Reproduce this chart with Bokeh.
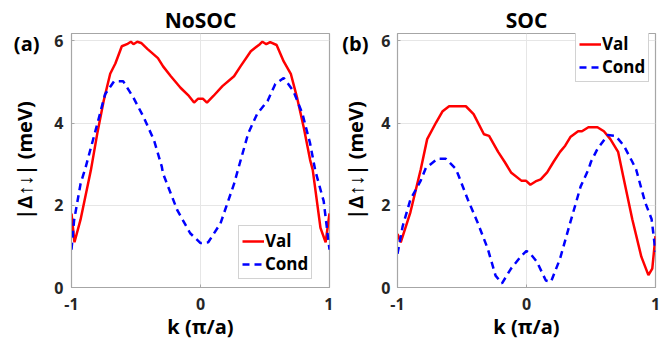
from bokeh.plotting import figure
from bokeh.layouts import row
from bokeh.models import Range1d, FixedTicker, Legend, LegendItem, LinearAxis
from bokeh.embed import file_html
from bokeh.resources import INLINE

# ---- data ----
k_val_a = [-1.0, -0.977, -0.93, -0.85, -0.80, -0.75, -0.70, -0.66, -0.61, -0.57, -0.54, -0.52, -0.49, -0.46,
           -0.41, -0.33, -0.29, -0.23, -0.155, -0.09, -0.05, -0.02, 0.0, 0.02, 0.05, 0.10, 0.17, 0.26, 0.31,
           0.39, 0.46, 0.48, 0.51, 0.54, 0.59, 0.645, 0.70, 0.75, 0.80, 0.85, 0.87, 0.93, 0.97, 1.0]
val_a = [1.8, 1.1, 1.65, 2.85, 3.75, 4.55, 5.2, 5.45, 5.87, 5.92, 5.98, 5.92, 5.98, 5.95,
         5.8, 5.58, 5.38, 5.14, 4.86, 4.66, 4.5, 4.59, 4.59, 4.59, 4.5, 4.66, 4.9, 5.14, 5.38,
         5.75, 5.92, 5.98, 5.92, 5.97, 5.9, 5.5, 5.2, 4.6, 3.9, 3.1, 2.86, 1.45, 1.1, 1.8]
k_cond_a = [-1.0, -0.98, -0.93, -0.89, -0.80, -0.74, -0.67, -0.60, -0.52, -0.44, -0.36, -0.30, -0.29,
            -0.18, -0.08, 0.0, 0.06, 0.155, 0.26, 0.29, 0.37, 0.44, 0.52, 0.58, 0.645, 0.72, 0.79,
            0.85, 0.89, 0.955, 1.0]
cond_a = [0.92, 1.63, 2.52, 2.93, 3.98, 4.7, 5.02, 5.02, 4.62, 4.14, 3.58, 2.94, 2.77,
          1.88, 1.32, 1.08, 1.1, 1.56, 2.52, 2.86, 3.75, 4.23, 4.54, 4.95, 5.1, 4.78, 4.23,
          3.5, 2.84, 2.1, 0.92]

k_val_b = [-1.0, -0.975, -0.9, -0.82, -0.77, -0.70, -0.65, -0.60, -0.47, -0.41, -0.33, -0.29, -0.22,
           -0.17, -0.12, -0.04, -0.005, 0.03, 0.07, 0.11, 0.16, 0.21, 0.26, 0.30, 0.34, 0.40, 0.43,
           0.48, 0.55, 0.60, 0.65, 0.71, 0.75, 0.82, 0.89, 0.945, 0.975, 1.0]
val_b = [1.3, 1.1, 1.83, 2.87, 3.61, 4.02, 4.29, 4.41, 4.41, 4.22, 3.73, 3.69, 3.3,
         3.06, 2.8, 2.6, 2.6, 2.5, 2.58, 2.63, 2.8, 3.06, 3.3, 3.45, 3.66, 3.8, 3.8,
         3.9, 3.9, 3.8, 3.61, 3.3, 2.7, 1.66, 0.75, 0.3, 0.46, 1.25]
k_cond_b = [-1.0, -0.96, -0.9, -0.82, -0.78, -0.69, -0.625, -0.55, -0.53, -0.455, -0.38, -0.30, -0.24,
            -0.19, -0.12, -0.04, 0.0, 0.03, 0.08, 0.15, 0.19, 0.26, 0.34, 0.42, 0.48, 0.5, 0.55,
            0.63, 0.69, 0.755, 0.82, 0.85, 0.92, 0.97, 1.0]
cond_b = [0.82, 1.49, 2.14, 2.6, 2.91, 3.13, 3.13, 2.89, 2.75, 2.14, 1.59, 0.94, 0.29,
          0.1, 0.46, 0.77, 0.89, 0.82, 0.63, 0.17, 0.14, 0.7, 1.59, 2.46, 2.87, 3.06, 3.37,
          3.71, 3.69, 3.45, 3.06, 2.87, 2.07, 1.66, 0.87]

x_ticks = [-1, 0, 1]
x_tick_labels = ["-1", "0", "1"]
y_ticks = [0, 2, 4, 6]
titles = ["NoSOC", "SOC"]
panel_tags = ["(a)", "(b)"]
x_label = "k (π/a)"
y_label = "|Δ↑↓| (meV)"
legend_labels = ["Val", "Cond"]

FONT = "Open Sans"
GRAY = "#a6a6a6"
TAG_Y = 5.94


def make_panel(kv, vv, kc, vc, title, tag, width, bl, br, bt, bb, legend_loc,
               tick_so, tag_so, ylab_so):
    p = figure(width=width, height=342, output_backend="svg", toolbar_location=None,
               x_range=Range1d(-1, 1), y_range=Range1d(0, 6.18),
               min_border_left=bl, min_border_right=br, min_border_top=bt, min_border_bottom=bb,
               title=title)
    p.title.align = "center"
    p.title.text_font = FONT
    p.title.text_font_size = "21px"
    p.title.text_font_style = "bold"
    p.title.text_color = "black"
    p.title.standoff = 0
    p.outline_line_color = GRAY
    p.outline_line_width = 1.2
    p.background_fill_color = "white"
    p.border_fill_color = "white"
    for ax in (p.xaxis, p.yaxis):
        ax.axis_line_color = GRAY
        ax.major_tick_line_color = GRAY
        ax.major_tick_in = 3
        ax.major_tick_out = 0
        ax.minor_tick_line_color = None
        ax.major_label_text_font = FONT
        ax.major_label_text_font_size = "16px"
        ax.major_label_text_font_style = "bold"
        ax.major_label_text_color = "#262626"
    p.xaxis.ticker = FixedTicker(ticks=x_ticks)
    p.xaxis.major_label_overrides = dict(zip(x_ticks, x_tick_labels))
    p.yaxis.ticker = FixedTicker(ticks=y_ticks)
    p.xaxis.axis_label = x_label
    p.xaxis.axis_label_text_font = FONT
    p.xaxis.axis_label_text_font_size = "20px"
    p.xaxis.axis_label_text_font_style = "bold"
    p.xaxis.axis_label_text_color = "black"
    p.xaxis.major_label_standoff = 10
    p.yaxis.major_label_standoff = tick_so
    p.xaxis.axis_label_standoff = 0
    p.xgrid.ticker = FixedTicker(ticks=x_ticks)
    p.ygrid.ticker = FixedTicker(ticks=y_ticks)
    p.grid.grid_line_color = "#e6e6e6"
    p.grid.grid_line_width = 1

    # extra left axis carrying the panel tag and the y-axis title
    tag_ax = LinearAxis(ticker=FixedTicker(ticks=[TAG_Y]),
                        major_label_overrides={TAG_Y: tag},
                        axis_line_color=None, major_tick_line_color=None,
                        minor_tick_line_color=None,
                        major_label_standoff=tag_so,
                        major_label_text_font=FONT,
                        major_label_text_font_size="20px",
                        major_label_text_font_style="bold",
                        major_label_text_color="black",
                        axis_label=y_label,
                        axis_label_text_font=FONT,
                        axis_label_text_font_size="20px",
                        axis_label_text_font_style="bold",
                        axis_label_text_color="black",
                        axis_label_standoff=ylab_so)
    p.add_layout(tag_ax, "left")

    r1 = p.line(kv, vv, line_color="#ff0000", line_width=2.5)
    r2 = p.line(kc, vc, line_color="#0000ff", line_width=2.5, line_dash="7 5")

    leg = Legend(items=[LegendItem(label=legend_labels[0], renderers=[r1]),
                        LegendItem(label=legend_labels[1], renderers=[r2])],
                 location=legend_loc)
    leg.label_text_font = FONT
    leg.label_text_font_size = "17px"
    leg.label_text_font_style = "bold"
    leg.label_text_color = "black"
    leg.glyph_width = 22
    leg.glyph_height = 20
    leg.label_height = 20
    leg.label_standoff = 1
    leg.padding = 3
    leg.spacing = 0
    leg.margin = 0
    leg.border_line_color = GRAY
    leg.border_line_width = 1.2
    leg.background_fill_color = "white"
    leg.background_fill_alpha = 1
    p.add_layout(leg, "center")
    return p


pa = make_panel(k_val_a, val_a, k_cond_a, cond_a, titles[0], panel_tags[0],
                333, 71, 4, 32, 53, (167, 8), 8, 6, -27)
pb = make_panel(k_val_b, val_b, k_cond_b, cond_b, titles[1], panel_tags[1],
                336, 64, 14, 33, 52, (178, 205), 7, 4, -30)

layout = row(pa, pb)
open("out.html", "w").write(file_html(layout, INLINE))
